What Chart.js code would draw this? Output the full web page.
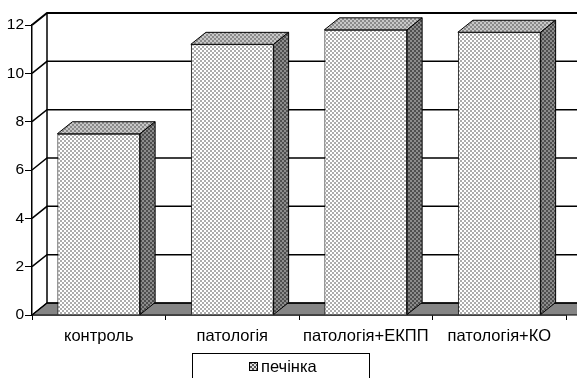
<!DOCTYPE html>
<html>
<head>
<meta charset="utf-8">
<style>
  html, body { margin: 0; padding: 0; background: #fff; }
  #wrap { width: 577px; height: 378px; }
</style>
<script src="https://cdn.jsdelivr.net/npm/chart.js@4/dist/chart.umd.min.js"></script>
</head>
<body>
<div id="wrap"><canvas id="c" width="577" height="378"></canvas></div>
<script>
// Categories, series and axis ticks
const categories = ['контроль', 'патологія', 'патологія+ЕКПП', 'патологія+КО'];
const seriesName = 'печінка';
const seriesValues = [7.5, 11.2, 11.8, 11.7];
const yTicks = [0, 2, 4, 6, 8, 10, 12];

const FONT = '"Liberation Sans", Arial, sans-serif';
const DEPTH_X = 15, DEPTH_Y = 12;

// Small checker patterns that imitate the crosshatch fill of the columns
function checker(a, b) {
  const c = document.createElement('canvas');
  c.width = 4; c.height = 4;
  const g = c.getContext('2d');
  g.fillStyle = a; g.fillRect(0, 0, 4, 4);
  g.fillStyle = b; g.fillRect(0, 0, 2, 2); g.fillRect(2, 2, 2, 2);
  return g.createPattern(c, 'repeat');
}
const ctxMain = document.getElementById('c').getContext('2d');
const frontFill = checker('#ffffff', '#acacac');
const topFill = checker('#c8c8c8', '#8a8a8a');
const sideFill = checker('#8c8c8c', '#4e4e4e');
const iconFill = checker('#e0e0e0', '#555555');

// Back wall, side wall, floor and the 3D faces of the columns
const box3d = {
  id: 'box3d',
  beforeDatasetsDraw(chart) {
    const { ctx, chartArea: { left, right, top, bottom }, scales: { y } } = chart;
    const backL = left + DEPTH_X, backR = right + DEPTH_X + 20;
    ctx.save();
    ctx.strokeStyle = '#000';
    // floor
    ctx.lineWidth = 1;
    ctx.beginPath();
    ctx.moveTo(left, bottom);
    ctx.lineTo(backL, bottom - DEPTH_Y);
    ctx.lineTo(backR, bottom - DEPTH_Y);
    ctx.lineTo(right + 20, bottom);
    ctx.closePath();
    ctx.fillStyle = '#858585';
    ctx.fill();
    ctx.stroke();
    // gridlines on the back wall plus their diagonals on the side wall
    yTicks.forEach(v => {
      const py = y.getPixelForValue(v);
      ctx.lineWidth = v === yTicks[yTicks.length - 1] ? 2 : 1.5;
      ctx.beginPath();
      ctx.moveTo(left, py);
      ctx.lineTo(backL, py - DEPTH_Y);
      ctx.lineTo(backR, py - DEPTH_Y);
      ctx.stroke();
    });
    // back wall left edge
    ctx.lineWidth = 1.5;
    ctx.beginPath();
    ctx.moveTo(backL, top - DEPTH_Y);
    ctx.lineTo(backL, bottom - DEPTH_Y);
    ctx.stroke();
    ctx.restore();
  },
  afterDatasetsDraw(chart) {
    const { ctx } = chart;
    const meta = chart.getDatasetMeta(0);
    ctx.save();
    ctx.strokeStyle = '#000';
    ctx.lineWidth = 1;
    ctx.lineJoin = 'miter';
    meta.data.forEach(bar => {
      const p = bar.getProps(['x', 'y', 'base', 'width'], true);
      const L = p.x - p.width / 2, R = p.x + p.width / 2, T = p.y, B = p.base;
      // top face
      ctx.beginPath();
      ctx.moveTo(L, T);
      ctx.lineTo(L + DEPTH_X, T - DEPTH_Y);
      ctx.lineTo(R + DEPTH_X, T - DEPTH_Y);
      ctx.lineTo(R, T);
      ctx.closePath();
      ctx.fillStyle = topFill;
      ctx.fill();
      ctx.stroke();
      // side face
      ctx.beginPath();
      ctx.moveTo(R, T);
      ctx.lineTo(R + DEPTH_X, T - DEPTH_Y);
      ctx.lineTo(R + DEPTH_X, B - DEPTH_Y);
      ctx.lineTo(R, B);
      ctx.closePath();
      ctx.fillStyle = sideFill;
      ctx.fill();
      ctx.stroke();
    });
    ctx.restore();
  },
  afterDraw(chart) {
    // boxed legend under the category labels
    const { ctx } = chart;
    ctx.save();
    ctx.strokeStyle = '#000';
    ctx.lineWidth = 1;
    ctx.strokeRect(192.5, 353.5, 177, 40);
    ctx.fillStyle = iconFill;
    ctx.fillRect(249, 362, 9, 9);
    ctx.strokeRect(249.5, 362.5, 8, 8);
    ctx.fillStyle = '#000';
    ctx.font = '16.5px ' + FONT;
    ctx.textBaseline = 'middle';
    ctx.textAlign = 'left';
    ctx.fillText(chart.data.datasets[0].label, 261, 367);
    ctx.restore();
  }
};

new Chart(ctxMain, {
  type: 'bar',
  data: {
    labels: categories,
    datasets: [{
      label: seriesName,
      data: seriesValues,
      backgroundColor: frontFill,
      borderColor: '#000',
      borderWidth: 1,
      categoryPercentage: 1,
      barPercentage: 0.62
    }]
  },
  options: {
    responsive: false,
    animation: false,
    devicePixelRatio: 1,
    layout: { padding: { top: 25, right: 11, left: 0, bottom: 0 } },
    plugins: {
      legend: { display: false },
      tooltip: { enabled: false }
    },
    scales: {
      x: {
        offset: true,
        grid: { offset: true, drawOnChartArea: false, drawTicks: true, tickLength: 5, color: '#000', lineWidth: 1 },
        border: { display: true, color: '#000', width: 1.5 },
        ticks: { color: '#000', font: { family: FONT, size: 16.5 }, padding: 7, maxRotation: 0, autoSkip: false },
        afterFit(scale) { scale.height = 63; }
      },
      y: {
        min: 0,
        max: 12,
        afterBuildTicks(scale) { scale.ticks = yTicks.map(v => ({ value: v })); },
        grid: { drawOnChartArea: false, drawTicks: true, tickLength: 7, color: '#000', lineWidth: 1 },
        border: { display: true, color: '#000', width: 1.5 },
        ticks: { color: '#000', font: { family: FONT, size: 15.5 }, padding: 1 },
        afterFit(scale) { scale.width = 32; }
      }
    }
  },
  plugins: [box3d]
});
</script>
</body>
</html>
